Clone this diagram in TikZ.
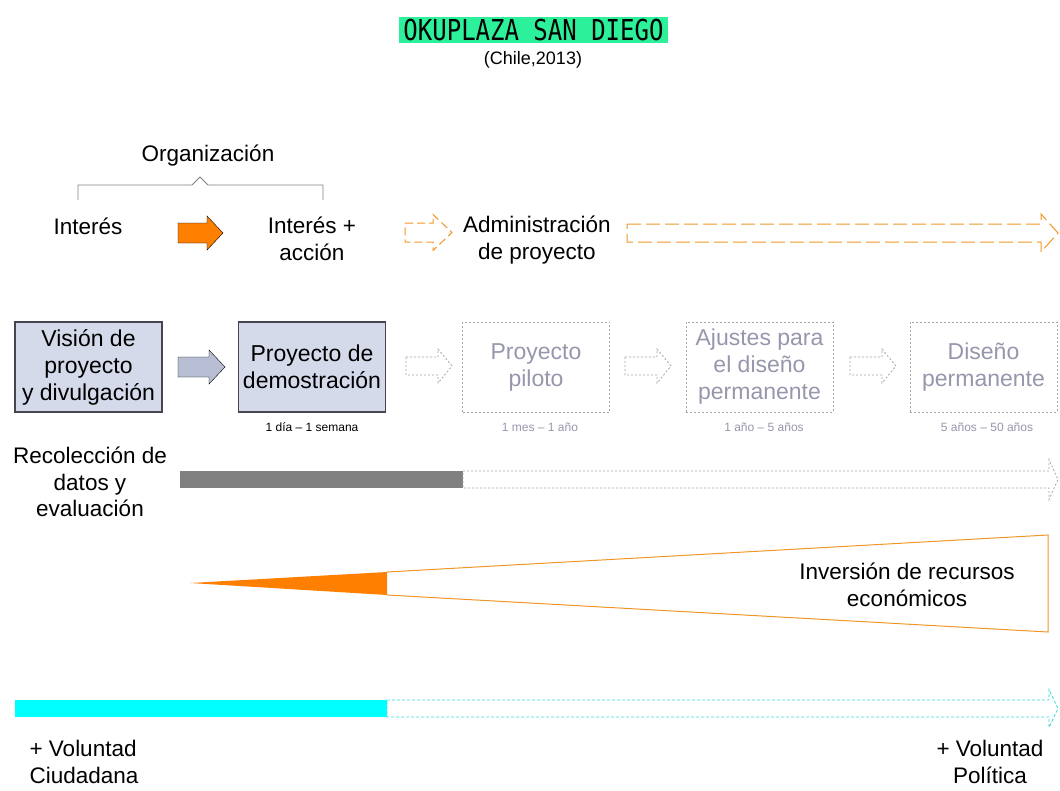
\documentclass[tikz,border=0pt]{standalone}
\usepackage{fontspec}
\setmainfont{Liberation Sans}
\newfontfamily\titlefont{DejaVu Sans Mono}
\usetikzlibrary{positioning}

\definecolor{okgreen}{RGB}{45,240,155}
\definecolor{okorange}{RGB}{255,128,0}
\definecolor{lineorange}{RGB}{240,150,40}
\definecolor{boxfill}{RGB}{212,218,234}
\definecolor{boxline}{RGB}{70,70,80}
\definecolor{arrowgray}{RGB}{184,190,212}
\definecolor{futureline}{RGB}{165,165,165}
\definecolor{futuretext}{RGB}{150,150,172}
\definecolor{bargray}{RGB}{128,128,128}
\definecolor{okcyan}{RGB}{0,255,255}
\definecolor{linecyan}{RGB}{60,215,215}

% block arrow: style, x from, x to, y centre, shaft half, head half, head length
\newcommand\blockarrow[7]{%
  \draw[#1] (#2,#4-#5) -- (#3-#7,#4-#5) -- (#3-#7,#4-#6) -- (#3,#4)
    -- (#3-#7,#4+#6) -- (#3-#7,#4+#5) -- (#2,#4+#5) -- cycle;}

\tikzset{
  lbl/.style={align=center,inner sep=0pt,font=\fontsize{22.5}{26.5}\selectfont},
  small/.style={inner sep=0pt,font=\fontsize{12}{14}\selectfont},
  stagebox/.style={draw=boxline,fill=boxfill,line width=1.2pt,minimum width=147pt,
    minimum height=90pt,align=center,inner sep=0pt,font=\fontsize{23}{27}\selectfont},
  futurebox/.style={stagebox,draw=futureline,fill=none,line width=0.8pt,
    dash pattern=on 2pt off 2pt,text=futuretext},
  futurearrow/.style={draw=futureline,line width=0.8pt,dash pattern=on 2pt off 2pt},
  orangedash/.style={draw=lineorange,line width=1pt,dash pattern=on 14pt off 5pt},
}

\begin{document}
\begin{tikzpicture}[x=1pt,y=-1pt]
  \useasboundingbox (0,0) rectangle (1060,790);
  % title
  \node[fill=okgreen,minimum width=269pt,minimum height=26pt,inner sep=0pt] (title) at (533.5,30)
    {\titlefont\fontsize{24}{24}\selectfont\scalebox{1}[1.2]{OKUPLAZA SAN DIEGO}};
  \node[inner sep=0pt,font=\fontsize{18}{20}\selectfont] (place) at (533,60) {(Chile,2013)};

  % organisation row
  \node[lbl] (org) at (208,156) {Organización};
  \draw[gray,line width=0.8pt] (78,200) -- (78,185) -- (192,185) -- (200,177) -- (208,185)
    -- (323,185) -- (323,200);
  \node[lbl] (interes) at (88,226) {Interés};
  \node[lbl] (accion) at (312,239) {Interés +\\acción};
  \node[lbl] (admin) at (537,240) {Administración\\de proyecto};
  \blockarrow{fill=okorange}{178}{223}{233}{10}{17}{16}
  \blockarrow{orangedash,dash pattern=on 8pt off 4pt}{405}{452}{232.5}{9.5}{18}{19}
  \blockarrow{orangedash}{627}{1058}{233}{9}{19}{17}

  % stages
  \node[stagebox] (vision) at (88.5,367) {Visión de\\proyecto\\y divulgación};
  \node[stagebox] (demo) at (312,367) {Proyecto de\\demostración};
  \node[futurebox] (piloto) at (536,367) {Proyecto\\piloto};
  \node[futurebox] (ajustes) at (759.5,367) {Ajustes para\\el diseño\\permanente};
  \node[futurebox] (permanente) at (983.5,367) {Diseño\\permanente};
  \node[small] (t1) at (312,427) {1 día -- 1 semana};
  \node[small,text=futuretext] (t2) at (540,427) {1 mes -- 1 año};
  \node[small,text=futuretext] (t3) at (764,427) {1 año -- 5 años};
  \node[small,text=futuretext] (t4) at (987,427) {5 años -- 50 años};
  \blockarrow{fill=arrowgray}{178}{225}{367}{10}{17}{16}
  \foreach \x in {406,625,850} {
    \blockarrow{futurearrow}{\x}{\x+46}{366}{9}{17}{14}
  }

  % data collection
  \node[lbl] (datos) at (90,482) {Recolección de\\datos y\\evaluación};
  \fill[bargray] (180,471) rectangle (463,488);
  \blockarrow{futurearrow}{463}{1058}{479.5}{8.5}{20}{9}

  % investment wedge
  \fill[okorange] (190,583) -- (387,572) -- (387,595) -- cycle;
  \draw[lineorange,line width=1pt] (387,572) -- (1048,535) -- (1048,632) -- (387,595);
  \node[lbl] (inversion) at (907,585) {Inversión de recursos\\económicos};

  % will
  \fill[okcyan] (15,700) rectangle (387,717);
  \blockarrow{draw=linecyan,line width=0.8pt,dash pattern=on 3pt off 2pt}{387}{1058}{708.5}{8.5}{19}{9}
  \node[lbl,align=left] (ciudadana) at (84,762) {+ Voluntad\\Ciudadana};
  \node[lbl] (politica) at (990,762) {+ Voluntad\\Política};
\end{tikzpicture}
\end{document}
